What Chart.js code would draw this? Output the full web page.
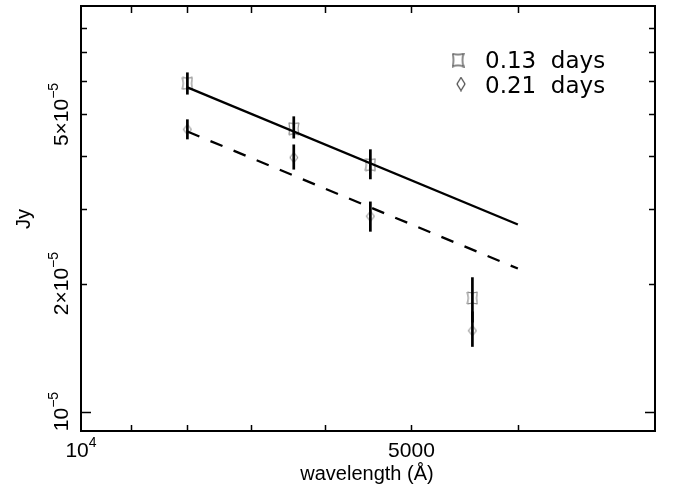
<!DOCTYPE html>
<html><head><meta charset="utf-8">
<script src="https://cdn.jsdelivr.net/npm/chart.js@4"></script>
<style>html,body{margin:0;padding:0;background:#fff}#wrap{width:675px;height:489px}</style>
</head><body><div id="wrap"><canvas id="c" width="675" height="489"></canvas></div>
<script>
// ---- data ----
const wavelengths = [8000, 6400, 5450, 4400];            // Å
const flux013 = [5.92e-5, 4.63e-5, 3.81e-5, 1.85e-5];    // Jy, 0.13 days
const flux013Low = [5.57e-5, 4.39e-5, 3.52e-5, 1.62e-5];
const flux013High = [6.28e-5, 4.95e-5, 4.14e-5, 2.07e-5];
const flux021 = [4.61e-5, 3.96e-5, 2.88e-5, 1.55e-5];    // Jy, 0.21 days
const flux021Low = [4.37e-5, 3.71e-5, 2.65e-5, 1.42e-5];
const flux021High = [4.87e-5, 4.25e-5, 3.12e-5, 1.72e-5];
const fitWavelengths = [8000, 4000];
const fit013 = [5.79e-5, 2.755e-5];
const fit021 = [4.56e-5, 2.17e-5];
const xTickValues = [10000, 9000, 8000, 7000, 6000, 5000, 4000];
const xLabelValues = [10000, 5000];
const xLabelBase = ['10', '5000'];
const xLabelSup = ['4', ''];
const yTickValues = [1e-5, 2e-5, 3e-5, 4e-5, 5e-5, 6e-5, 7e-5, 8e-5];
const yMajorValues = [1e-5];
const yLabelValues = [1e-5, 2e-5, 5e-5];
const yLabelBase = ['10', '2×10', '5×10'];
const yLabelSup = ['−5', '−5', '−5'];
const seriesNames = ['0.13  days', '0.21  days'];
const xTitle = 'wavelength (Å)';
const yTitle = 'Jy';

// ---- marker images ----
function concaveSquare(w, h, color, lw) {
  const c = document.createElement('canvas');
  c.width = w + 2; c.height = h + 2;
  const g = c.getContext('2d');
  const x0 = 1, y0 = 1, x1 = w + 1, y1 = h + 1, cx = c.width / 2, cy = c.height / 2, k = 0.18;
  g.strokeStyle = color; g.lineWidth = lw;
  g.beginPath();
  g.moveTo(x0, y0);
  g.quadraticCurveTo(cx, y0 + h * k, x1, y0);
  g.quadraticCurveTo(x1 - w * k, cy, x1, y1);
  g.quadraticCurveTo(cx, y1 - h * k, x0, y1);
  g.quadraticCurveTo(x0 + w * k, cy, x0, y0);
  g.stroke();
  return c;
}
function diamond(w, h, color, lw) {
  const c = document.createElement('canvas');
  c.width = w + 2; c.height = h + 2;
  const g = c.getContext('2d');
  const cx = c.width / 2, cy = c.height / 2;
  g.strokeStyle = color; g.lineWidth = lw;
  g.beginPath();
  g.moveTo(cx, 1); g.lineTo(w + 1, cy); g.lineTo(cx, h + 1); g.lineTo(1, cy); g.closePath();
  g.stroke();
  return c;
}
const sqImg = concaveSquare(10, 12, '#777', 1);
const diImg = diamond(8, 10, '#777', 1);
const sqLeg = concaveSquare(11, 13, '#444', 1.2);
const diLeg = diamond(8, 13, '#444', 1.2);

const pts = (xs, ys) => xs.map((x, i) => ({x: x, y: ys[i]}));

const frame = {
  id: 'frame',
  afterDatasetsDraw(chart) {
    const ctx = chart.ctx, xs = chart.scales.x, ys = chart.scales.y;
    ctx.save();
    ctx.strokeStyle = '#000'; ctx.lineWidth = 2.7; ctx.lineCap = 'butt';
    [[flux013Low, flux013High], [flux021Low, flux021High]].forEach(([lo, hi]) => {
      wavelengths.forEach((w, i) => {
        const px = xs.getPixelForValue(w);
        ctx.beginPath();
        ctx.moveTo(px, ys.getPixelForValue(lo[i]));
        ctx.lineTo(px, ys.getPixelForValue(hi[i]));
        ctx.stroke();
      });
    });
    ctx.restore();
  },
  afterDraw(chart) {
    const ctx = chart.ctx, xs = chart.scales.x, ys = chart.scales.y;
    const {left, right, top, bottom} = chart.chartArea;
    ctx.save();
    ctx.strokeStyle = '#000'; ctx.lineWidth = 2;
    ctx.strokeRect(left, top, right - left, bottom - top);
    ctx.lineWidth = 1.5;
    xTickValues.forEach(v => {
      const px = Math.round(xs.getPixelForValue(v)) + 0.5;
      if (px <= left + 2 || px >= right - 2) return;
      ctx.beginPath();
      ctx.moveTo(px, bottom); ctx.lineTo(px, bottom - 6);
      ctx.moveTo(px, top); ctx.lineTo(px, top + 7);
      ctx.stroke();
    });
    yTickValues.forEach(v => {
      const py = Math.round(ys.getPixelForValue(v)) + 0.5;
      const len = yMajorValues.includes(v) ? 10 : 6;
      ctx.beginPath();
      ctx.moveTo(left, py); ctx.lineTo(left + len, py);
      ctx.moveTo(right, py); ctx.lineTo(right - len, py);
      ctx.stroke();
    });
    // tick labels
    const F = 'Liberation Sans, Arial, sans-serif';
    ctx.fillStyle = '#000';
    ctx.textBaseline = 'alphabetic';
    xLabelValues.forEach((v, i) => {
      const px = xs.getPixelForValue(v);
      ctx.font = '21px ' + F;
      const wb = ctx.measureText(xLabelBase[i]).width;
      ctx.font = '14px ' + F;
      const wsu = xLabelSup[i] ? ctx.measureText(xLabelSup[i]).width : 0;
      let sx = px - (wb + wsu) / 2;
      ctx.font = '21px ' + F; ctx.textAlign = 'left';
      ctx.fillText(xLabelBase[i], sx, 457);
      if (xLabelSup[i]) { ctx.font = '14px ' + F; ctx.fillText(xLabelSup[i], sx + wb, 447); }
    });
    yLabelValues.forEach((v, i) => {
      const py = ys.getPixelForValue(v);
      ctx.save();
      ctx.translate(68, py);
      ctx.rotate(-Math.PI / 2);
      ctx.font = '21px ' + F;
      const wb = ctx.measureText(yLabelBase[i]).width;
      ctx.font = '14px ' + F;
      const wsu = ctx.measureText(yLabelSup[i]).width;
      const sx = -(wb + wsu) / 2;
      ctx.textAlign = 'left';
      ctx.font = '21px ' + F;
      ctx.fillText(yLabelBase[i], sx, 0);
      ctx.font = '14px ' + F;
      ctx.fillText(yLabelSup[i], sx + wb, -10);
      ctx.restore();
    });
    // axis titles
    ctx.font = '20px ' + F; ctx.textAlign = 'center';
    ctx.fillText(xTitle, 367, 480);
    ctx.save();
    ctx.translate(30, 219); ctx.rotate(-Math.PI / 2);
    ctx.fillText(yTitle, 0, 0);
    ctx.restore();
    // legend
    ctx.font = '23px DejaVu Sans, sans-serif'; ctx.textAlign = 'left';
    ctx.drawImage(sqLeg, 458 - sqLeg.width / 2, 60 - sqLeg.height / 2);
    ctx.fillText(seriesNames[0], 485, 68);
    ctx.drawImage(diLeg, 461 - diLeg.width / 2, 84 - diLeg.height / 2);
    ctx.fillText(seriesNames[1], 485, 93);
    ctx.restore();
  }
};

new Chart(document.getElementById('c'), {
  type: 'scatter',
  data: {
    datasets: [
      {label: 'fit 0.13', data: pts(fitWavelengths, fit013), showLine: true, borderColor: '#000', borderWidth: 2.3, pointRadius: 0},
      {label: 'fit 0.21', data: pts(fitWavelengths, fit021), showLine: true, borderColor: '#000', borderWidth: 2.3, borderDash: [13, 12], pointRadius: 0},
      {label: seriesNames[0], data: pts(wavelengths, flux013), showLine: false, pointStyle: sqImg, pointRadius: 5},
      {label: seriesNames[1], data: pts(wavelengths, flux021), showLine: false, pointStyle: diImg, pointRadius: 5}
    ]
  },
  options: {
    responsive: false, animation: false, devicePixelRatio: 1,
    layout: {padding: {left: 81, right: 20, top: 5, bottom: 58}},
    plugins: {legend: {display: false}, tooltip: {enabled: false}},
    scales: {
      x: {type: 'logarithmic', min: 3000, max: 10000, reverse: true, display: false},
      y: {type: 'logarithmic', min: 9e-6, max: 9e-5, display: false}
    }
  },
  plugins: [frame]
});
</script></body></html>
